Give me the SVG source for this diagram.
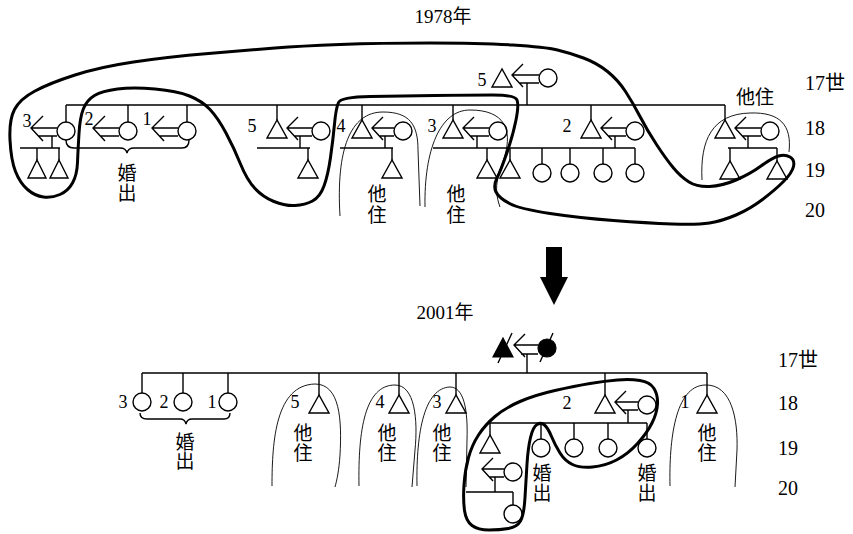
<svg xmlns="http://www.w3.org/2000/svg" width="853" height="534" viewBox="0 0 853 534">
<style>
.ln{fill:none;stroke:#000;stroke-width:1.4}
.sy{fill:#fff;stroke:#000;stroke-width:1.4}
.fi{fill:#000;stroke:#000;stroke-width:1.2}
.thin{fill:none;stroke:#000;stroke-width:0.9}
.bold{fill:none;stroke:#000;stroke-width:3;stroke-linejoin:round}
text{font-family:"Liberation Serif","Noto Sans CJK JP",serif;fill:#000}
.n{font-size:18px;text-anchor:middle}
.g{font-size:20px}
.ttl{font-size:19px;text-anchor:middle}
.k{font-family:"Noto Sans CJK JP","Noto Sans CJK SC",sans-serif;font-size:19px;text-anchor:middle}
.kv{font-family:"Noto Sans CJK JP","Noto Sans CJK SC",sans-serif;font-size:19px;writing-mode:vertical-rl;letter-spacing:1px}
</style>
<rect width="853" height="534" fill="#fff"/>

<!-- titles and generation labels -->
<g id="labels">
<text class="ttl" x="443" y="23">1978年</text>
<text class="ttl" x="445" y="319">2001年</text>
<text class="g" x="805" y="90">17世</text>
<text class="g" x="805" y="135">18</text>
<text class="g" x="805" y="177">19</text>
<text class="g" x="805" y="217">20</text>
<text class="g" x="778" y="367">17世</text>
<text class="g" x="778" y="410">18</text>
<text class="g" x="778" y="455">19</text>
<text class="g" x="778" y="495">20</text>
</g>

<!-- connectors -->
<g id="connectors" class="ln">
<path d="M527,83 V105 M66,105 H725 M66,105 V122 M128,105 V122 M187,105 V122 M277,105 V120 M362,105 V120 M453,105 V120 M591,105 V120 M725,105 V120"/>
<path d="M20,148 H60 M37,148 V160 M59,148 V160 M52,136 V148"/>
<path d="M257,148 H310 M308,148 V160 M300,136 V148"/>
<path d="M340,148 H393 M392,148 V160 M385,136 V148"/>
<path d="M433,148 H487 M487,148 V160 M477,136 V148"/>
<path d="M487,148 H635 M510,148 V160 M542,148 V164 M570,148 V164 M603,148 V164 M635,148 V164 M615,136 V148"/>
<path d="M728,148 H777 M730,148 V161 M777,148 V161 M748,136 V148"/>
<path d="M523,64 L512,75 L523,87 M513,75 H539 M519,83 H539"/>
<path d="M43,116 L31,128 L43,141 M32,128 H57 M38,136 H57"/>
<path d="M105,116 L93,128 L105,141 M94,128 H119 M100,136 H119"/>
<path d="M164,116 L152,128 L164,141 M153,128 H178 M159,136 H178"/>
<path d="M298,117 L287,128 L298,140 M288,128 H312 M294,136 H312"/>
<path d="M383,117 L372,128 L383,140 M373,128 H394 M379,136 H394"/>
<path d="M474,117 L463,128 L474,140 M464,128 H489 M470,136 H489"/>
<path d="M612,117 L601,128 L612,140 M602,128 H626 M608,136 H626"/>
<path d="M746,117 L735,128 L746,140 M736,128 H761 M742,136 H761"/>
<path d="M66,140 Q66,148 74,148 L120,148 Q126,148 127,153 Q128,148 134,148 L182,148 Q189,148 189,140"/>

<path d="M142,373 H707 M527,354 V373 M142,373 V393 M183,373 V393 M228,373 V393 M319,373 V395 M399,373 V395 M456,373 V395 M605,373 V395 M707,373 V395"/>
<path d="M525,334 L514,345 L525,357 M515,345 H538 M521,354 H538"/>
<path d="M626,391 L615,402 L626,414 M616,402 H638 M622,410 H638 M628,410 V423"/>
<path d="M490,423 H647 M490,423 V435 M541,423 V439 M574,423 V439 M608,423 V439 M647,423 V439"/>
<path d="M493,458 L482,469 L493,481 M483,469 H504 M489,477 H504 M495,477 V492 M466,492 H513 M513,492 V505"/>
<path d="M140,413 Q140,419 147,419 L180,419 Q185,419 186,424 Q187,419 192,419 L224,419 Q230,419 230,413"/>
</g>

<!-- 1978 nodes -->
<g id="n78-top"><text class="n" x="482" y="86">5</text><polygon class="sy" points="502,69 492,87 512,87"/><circle class="sy" cx="548" cy="78" r="9"/></g>
<g id="n78-c3"><text class="n" x="27" y="127">3</text><circle class="sy" cx="66" cy="131" r="9"/>
<polygon class="sy" points="37,160 28,178 46,178"/><polygon class="sy" points="59,160 50,178 68,178"/></g>
<g id="n78-c2"><text class="n" x="89" y="125">2</text><circle class="sy" cx="128" cy="131" r="9"/></g>
<g id="n78-c1"><text class="n" x="147" y="125">1</text><circle class="sy" cx="187" cy="131" r="9"/></g>
<g id="n78-out"><text class="kv" x="127" y="163">婚出</text></g>
<g id="n78-5"><text class="n" x="252" y="132">5</text><polygon class="sy" points="277,120 267,138 287,138"/><circle class="sy" cx="321" cy="131" r="9"/>
<polygon class="sy" points="308,160 298,178 318,178"/></g>
<g id="n78-4"><text class="n" x="341" y="132">4</text><polygon class="sy" points="362,120 352,138 372,138"/><circle class="sy" cx="403" cy="131" r="9"/>
<polygon class="sy" points="392,160 382,178 402,178"/>
<text class="kv" x="377" y="184" style="letter-spacing:2px">他住</text></g>
<g id="n78-3"><text class="n" x="432" y="132">3</text><polygon class="sy" points="453,120 443,138 463,138"/><circle class="sy" cx="498" cy="131" r="9"/>
<polygon class="sy" points="487,160 477,178 497,178"/>
<text class="kv" x="456" y="184" style="letter-spacing:2px">他住</text></g>
<g id="n78-2"><text class="n" x="567" y="132">2</text><polygon class="sy" points="591,120 581,138 601,138"/><circle class="sy" cx="635" cy="131" r="9"/>
<polygon class="sy" points="510,160 500,178 520,178"/>
<circle class="sy" cx="542" cy="173" r="9"/><circle class="sy" cx="570" cy="173" r="9"/><circle class="sy" cx="603" cy="173" r="9"/><circle class="sy" cx="635" cy="173" r="9"/></g>
<g id="n78-r"><text class="k" x="755" y="104">他住</text><polygon class="sy" points="725,120 715,138 735,138"/><circle class="sy" cx="770" cy="131" r="9"/>
<polygon class="sy" points="730,161 720,179 740,179"/><polygon class="sy" points="777,161 767,179 787,179"/></g>

<!-- 2001 nodes -->
<g id="n01-top"><polygon class="fi" points="503,338 493,357 513,357"/><circle class="fi" cx="547" cy="348" r="9"/>
<path class="ln" d="M498,363 L512,333 M540,362 L553,333"/></g>
<g id="n01-c3"><text class="n" x="123" y="408">3</text><circle class="sy" cx="142" cy="402" r="9"/></g>
<g id="n01-c2"><text class="n" x="164" y="408">2</text><circle class="sy" cx="183" cy="402" r="9"/></g>
<g id="n01-c1"><text class="n" x="212" y="408">1</text><circle class="sy" cx="228" cy="402" r="9"/></g>
<g id="n01-out"><text class="kv" x="185" y="432" style="letter-spacing:0px">婚出</text></g>
<g id="n01-5"><text class="n" x="295" y="408">5</text><polygon class="sy" points="319,395 309,413 329,413"/>
<text class="kv" x="303" y="423">他住</text></g>
<g id="n01-4"><text class="n" x="380" y="408">4</text><polygon class="sy" points="399,395 389,413 409,413"/>
<text class="kv" x="387" y="423">他住</text></g>
<g id="n01-3"><text class="n" x="437" y="408">3</text><polygon class="sy" points="456,395 446,413 466,413"/>
<text class="kv" x="442" y="423">他住</text></g>
<g id="n01-2"><text class="n" x="567" y="409">2</text><polygon class="sy" points="605,395 595,413 615,413"/><circle class="sy" cx="647" cy="405" r="9"/>
<polygon class="sy" points="490,435 480,453 500,453"/>
<circle class="sy" cx="541" cy="448" r="9"/><circle class="sy" cx="574" cy="448" r="9"/><circle class="sy" cx="608" cy="448" r="9"/><circle class="sy" cx="647" cy="448" r="9"/>
<text class="kv" x="542" y="463">婚出</text>
<text class="kv" x="647" y="463">婚出</text>
<circle class="sy" cx="513" cy="472" r="9"/><circle class="sy" cx="513" cy="514" r="9"/></g>
<g id="n01-1"><text class="n" x="685" y="408">1</text><polygon class="sy" points="707,395 697,413 717,413"/>
<text class="kv" x="707" y="423">他住</text></g>

<!-- big arrow -->
<polygon fill="#000" points="546,247 562,247 562,277 568,277 554,305 540,277 546,277"/>

<!-- thin enclosures -->
<g id="arcs" class="thin">
<path d="M340,216 C336,150 350,112 383,112 C410,112 418,125 418,150 L420,206"/>
<path d="M425,207 C424,150 440,110 470,110 C505,110 512,130 505,155 C500,172 492,185 500,207"/>
<path d="M702,180 C700,140 712,114 750,113 C780,112 792,125 789,152"/>
<path d="M272,486 C272,440 276,385 315,384 C340,384 342,420 340,455 C339,470 337,480 335,487"/>
<path d="M359,486 C358,430 365,385 395,385 C415,385 418,420 415,450 L412,487"/>
<path d="M417,486 C416,430 425,388 450,387 C464,387 468,410 467,440 L466,487"/>
<path d="M670,486 C669,440 675,386 705,385 C732,384 738,420 737,450 L735,487"/>
</g>

<!-- thick enclosures -->
<g id="loops" class="bold">
<path d="M275,48 Q250,50 208.5,53.5 Q167,57 133.5,62 Q100,67 75,75 Q50,83 35,91 Q20,99 14.5,109.5 Q9,120 10,140 Q11,160 15.5,171.5 Q20,183 27.5,189.5 Q35,196 43.5,197 Q52,198 60,194.5 Q68,191 72.5,183 Q77,175 77.5,162.5 Q78,150 79,133.5 Q80,117 83.5,108.5 Q87,100 94.5,95.5 Q102,91 117.5,89 Q133,87 155,89 Q177,91 189.5,96 Q202,101 210,109.5 Q218,118 226,133 Q234,148 240.5,164 Q247,180 255,188.5 Q263,197 274,201.5 Q285,206 295,205.5 Q305,205 312.5,201 Q320,197 324,186 Q328,175 330.5,157.5 Q333,140 334.5,124 Q336,108 338.5,102.5 Q341,97 370.5,96.5 Q400,96 435,95.5 Q470,95 492.5,95 Q515,95 517,100 Q519,105 516,120 Q513,135 507,152.5 Q501,170 497,178 Q493,186 496,192 Q499,198 509.5,203.5 Q520,209 550,213.5 Q580,218 613.5,220.5 Q647,223 672,224 Q697,225 709.5,223 Q722,221 736,215 Q750,209 762.5,199.5 Q775,190 783.5,181.5 Q792,173 793.5,166.5 Q795,160 790,157 Q785,154 778.5,156 Q772,158 761,166 Q750,174 736,180 Q722,186 709.5,186.5 Q697,187 689,182 Q681,177 673.5,168 Q666,159 656.5,144.5 Q647,130 640,116.5 Q633,103 625.5,91.5 Q618,80 607.5,71.5 Q597,63 583.5,58 Q570,53 557.5,50 Q545,47 512.5,45 Q480,43 430,43 Q380,43 340,44.5 Q300,46 275,48 Z"/>
<path d="M617.5,380 Q630,379 640,380.5 Q650,382 654,388.5 Q658,395 657.5,404 Q657,413 652,423 Q647,433 637.5,443.5 Q628,454 616.5,460 Q605,466 592.5,467 Q580,468 572.5,464.5 Q565,461 560,453 Q555,445 551.5,436.5 Q548,428 544.5,425 Q541,422 537,424.5 Q533,427 530.5,437.5 Q528,448 527,464 Q526,480 525,497.5 Q524,515 520.5,521 Q517,527 508.5,528.5 Q500,530 489,530 Q478,530 472,525.5 Q466,521 464.5,510.5 Q463,500 464,485 Q465,470 468.5,457.5 Q472,445 478.5,435 Q485,425 495,416.5 Q505,408 520,401.5 Q535,395 555,390.5 Q575,386 590,383.5 Q605,381 617.5,380 Z"/>
</g>
</svg>
